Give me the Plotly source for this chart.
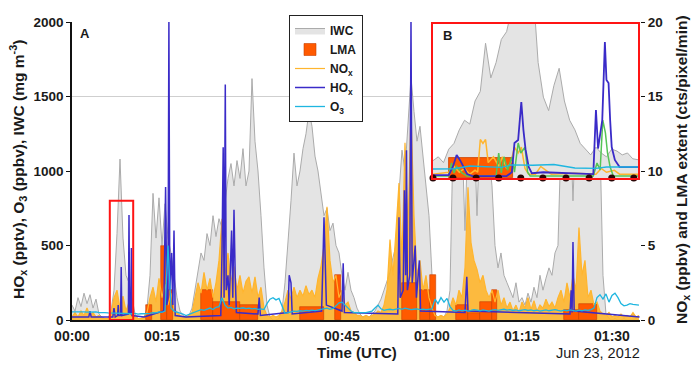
import plotly.graph_objects as go

# ---------------- canvas / layout geometry ----------------
W, H = 694, 371
ML, MR, MT, MB = 72, 54, 22, 51
PW, PH = W - ML - MR, H - MT - MB


def px_x(x):
    return (x - ML) / PW


def px_y(y):
    return (H - MB - y) / PH


# ---------------- panel A data (time in minutes after 00:00 UTC, 0.5-min samples) ----------------
STEP = 0.5
iwc = [
    100, 60, 150, 90, 180, 110, 170, 80, 140, 40,
    20, 10, 10, 60, 200, 580, 1080, 550, 300, 250,
    150, 40, 10, 10, 20, 80, 300, 850, 550, 820,
    500, 780, 550, 450, 300, 150, 60, 30, 20, 30,
    80, 200, 320, 450, 400, 580, 500, 700, 560, 680,
    620, 800, 950, 1050, 900, 1070, 950, 1150, 900, 1000,
    1620, 1200, 1000, 700, 350, 100, 20, 0, 0, 10,
    60, 250, 500, 800, 1120, 900, 1000, 1150, 1250, 1400,
    1300, 1100, 1000, 850, 700, 750, 600, 650, 500, 450,
    300, 200, 320, 200, 150, 80, 40, 20, 30, 20,
    40, 60, 100, 140, 200, 260, 320, 420, 500, 850,
    1140, 1000, 1300, 1630, 1400, 1200, 1300, 1100, 900, 700,
    300, 40, 20, 30, 20, 60, 200, 1200, 1300, 1400,
    1250, 600, 1300, 1400, 1350, 700, 1300, 1450, 1300, 1100,
    900, 500, 350, 450, 300, 250, 200, 150, 250, 120,
    150, 100, 180, 120, 220, 150, 300, 200, 280, 350,
    300, 450, 500, 1200, 1400, 1250, 1400, 800, 1350, 1450,
    1300, 1400, 1350, 1200, 1300, 1400, 1200, 300, 40, 10,
    0, 10, 0, 0, 10, 0, 0, 0, 10, 0,
]
nox = [
    0.2, 0.5, 0.2, 0.6, 0.3, 0.8, 0.3, 0.5, 0.2, 0.3,
    0.1, 0.1, 0.1, 0.4, 1.5, 2.0, 0.8, 1.6, 0.6, 1.2,
    0.4, 0.2, 0.1, 0.1, 0.2, 0.5, 1.5, 2.2, 1.2, 2.8,
    1.5, 2.4, 1.0, 1.8, 0.8, 0.5, 0.3, 0.2, 0.2, 0.3,
    0.5, 1.5, 2.5, 1.8, 3.2, 2.0, 2.8, 1.5, 2.5, 4.0,
    6.8, 3.0, 4.5, 2.5, 3.6, 2.0, 3.0, 1.8, 2.6, 2.9,
    1.8, 2.9, 1.5, 2.2, 0.8, 0.3, 0.2, 0.3, 0.2, 0.3,
    0.6, 1.2, 2.0, 1.4, 2.2, 1.5, 2.0, 1.6, 2.3, 1.7,
    2.0, 1.5, 2.8, 3.6, 5.0, 7.6, 4.0, 2.5, 3.0, 1.5,
    2.0, 1.0, 1.2, 0.6, 0.5, 0.3, 0.3, 0.2, 0.3, 0.2,
    0.3, 0.4, 0.6, 0.5, 1.0, 2.0, 5.4, 3.0, 6.0, 9.2,
    4.0, 11.9, 6.0, 14.0, 7.0, 3.0, 4.0, 2.0, 3.0, 1.5,
    0.8, 0.3, 0.2, 0.3, 0.2, 0.4, 0.8, 1.5, 1.0, 2.0,
    1.5, 3.5, 8.9, 5.2, 4.0, 3.4, 2.5, 3.0, 2.0, 1.5,
    2.0, 1.2, 2.0, 1.0, 1.5, 0.8, 1.2, 0.6, 1.0, 0.5,
    1.2, 0.8, 1.5, 0.7, 1.3, 0.6, 1.0, 0.8, 1.4, 0.9,
    1.2, 0.8, 1.5, 2.0, 1.2, 2.5, 1.5, 3.0, 2.0, 6.2,
    3.0, 4.0, 1.5, 2.0, 1.0, 1.2, 0.6, 0.4, 0.3, 0.5,
    0.2, 0.3, 0.2, 0.4, 0.2, 0.3, 0.2, 0.5, 0.2, 0.3,
]
o3 = [
    55, 56, 54, 57, 55, 53, 55, 52, 54, 50,
    52, 50, 48, 47, 45, 48, 44, 46, 43, 45,
    42, 44, 40, 42, 40, 43, 45, 50, 48, 55,
    52, 60, 500, 80, 60, 55, 45, 40, 30, 38,
    45, 55, 60, 70, 65, 75, 80, 70, 85, 90,
    150, 100, 80, 85, 75, 80, 78, 82, 76, 80,
    75, 78, 72, 75, 70, 110, 140, 150, 135, 145,
    90, 45, 50, 55, 60, 58, 62, 60, 65, 62,
    66, 63, 68, 70, 75, 80, 72, 78, 95, 115,
    120, 100, 80, 60, 50, 50, 48, 52, 50, 55,
    60, 80, 100, 75, 65, 70, 72, 68, 75, 78,
    72, 80, 75, 70, 72, 74, 70, 73, 70, 72,
    75, 140, 110, 150, 120, 145, 90, 65, 60, 68,
    62, 66, 60, 64, 70, 66, 62, 68, 64, 60,
    66, 70, 65, 68, 72, 66, 70, 64, 68, 62,
    66, 70, 64, 68, 62, 66, 60, 64, 68, 62,
    66, 70, 64, 60, 66, 62, 68, 64, 60, 66,
    62, 68, 64, 70, 80, 150, 170, 140, 175, 120,
    165, 180, 150, 110, 95, 100, 110, 105, 100, 100,
]
t_main = [round(i * STEP, 2) for i in range(len(iwc))]

# HOx: irregular sample times (spiky series)
hox_t = [0, 2.8, 3.0, 3.2, 6.8, 7.0, 7.2, 7.6, 7.7, 7.8, 8.1, 8.2, 8.3, 9.4, 9.5, 9.6, 9.8, 9.9, 10.0,
         12.0, 15.3, 15.6, 15.8, 16.0, 16.15, 16.3, 16.6, 16.8, 17.0, 17.2, 19.0, 24.8, 25.0, 25.2,
         25.35, 25.55, 25.7, 26.0, 26.2, 26.6, 26.8, 27.0, 27.2, 27.4, 31.0, 31.2, 31.4, 36.0, 36.2,
         36.5, 36.7, 41.6, 41.8, 42.0, 42.2, 42.4, 45.0, 45.2, 45.4, 54.3, 54.5, 54.7, 55.2, 55.4,
         55.6, 55.75, 55.9, 56.3, 56.5, 56.7, 57.2, 57.4, 57.9, 58.1, 65.5, 65.8, 66.0, 83.0, 83.2,
         83.35, 83.5, 83.7, 94.6]
hox_v = [20, 20, 60, 20, 20, 80, 20, 30, 100, 30, 30, 356, 30, 40, 705, 50, 40, 483, 30,
         20, 60, 893, 100, 150, 2000, 200, 450, 100, 600, 30, 20, 30, 450, 1160,
         150, 1580, 200, 300, 100, 600, 150, 740, 300, 50, 40, 150, 30, 50, 300,
         250, 40, 60, 350, 690, 400, 100, 60, 380, 50, 40, 690, 150, 200, 870,
         300, 1140, 200, 300, 2000, 250, 500, 150, 400, 60, 50, 290, 60, 40, 200,
         50, 523, 60, 20]

# LMA extent blocks (start, end in minutes; value in cts/pixel/min)
lma_start = [12.3, 14.9, 15.9, 21.5, 23.5, 28.0, 38.0, 43.8, 55.0, 58.0, 59.6, 64.0, 66.0, 68.0, 70.0, 82.0, 84.5]
lma_end = [13.3, 15.9, 16.9, 23.5, 28.0, 31.0, 42.0, 44.8, 57.5, 59.6, 60.6, 66.0, 68.0, 70.0, 70.8, 84.5, 87.5]
lma_val = [1.0, 5.0, 2.0, 2.0, 1.2, 1.0, 0.9, 3.0, 2.5, 2.0, 3.0, 1.0, 0.5, 1.2, 2.0, 0.7, 1.1]

x_ticks = [0, 15, 30, 45, 60, 75, 90]
x_ticktext = ["00:00", "00:15", "00:30", "00:45", "01:00", "01:15", "01:30"]
X_MAX = 94.67
LEFT_MAX, RIGHT_MAX = 2000, 20
y_left_ticks = [0, 500, 1000, 1500, 2000]
y_right_ticks = [0, 5, 10, 15, 20]

# ---------------- panel B (zoom of the red box) ----------------
INSET_T0, INSET_T1, INSET_Y1, INSET_NOX1 = 6.3, 10.2, 800, 8
iwc_b = [90, 110, 80, 150, 180, 250, 300, 280, 400, 450, 700, 520, 600, 720, 760, 900, 1000, 1000, 1000,
         1000, 600, 420, 350, 480, 570, 400, 300, 250, 180, 150, 120, 160, 130, 110, 150, 140, 120,
         130, 100, 95]
t_iwc_b = [round(INSET_T0 + 0.1 * i, 2) for i in range(len(iwc_b))]
hox_b_t = [6.30, 6.60, 6.68, 6.75, 6.82, 6.88, 6.95, 7.05, 7.70, 7.80, 7.85, 7.92, 7.98, 8.02, 8.06, 8.12,
           8.18, 8.40, 8.60, 8.90, 9.20, 9.35, 9.40, 9.44, 9.52, 9.57, 9.60, 9.64, 9.67, 9.70, 9.76,
           9.85, 10.2]
hox_b_v = [15, 15, 60, 120, 90, 57, 20, 10, 10, 30, 182, 197, 395, 250, 150, 57,
           25, 30, 28, 25, 20, 20, 353, 153, 301, 706, 509, 493, 301, 161, 94,
           57, 57]
nox_b_t = [6.30, 6.60, 6.70, 6.80, 6.90, 7.00, 7.10, 7.15, 7.20, 7.25, 7.30, 7.35, 7.45, 7.55, 7.62, 7.70,
           7.78, 7.85, 7.92, 7.98, 8.05, 8.12, 8.25, 8.35, 8.45, 8.55, 9.00, 9.40, 9.50, 9.60, 9.75,
           9.85, 10.2]
nox_b_v = [0.2, 0.3, 0.6, 0.3, 0.5, 0.2, 0.4, 0.3, 2.0, 1.8, 2.0, 0.8, 1.1, 0.6, 1.1, 0.5,
           0.8, 1.6, 1.3, 1.6, 0.5, 0.2, 0.2, 0.6, 0.4, 0.2, 0.25, 0.2, 0.5, 0.3, 0.4,
           0.2, 0.2]
grn_b_t = [6.30, 6.60, 6.65, 6.70, 6.75, 6.85, 6.95, 7.50, 7.55, 7.60, 7.65, 7.72, 7.80, 7.85, 7.92, 7.97,
           8.05, 8.10, 8.15, 9.35, 9.42, 9.48, 9.53, 9.58, 9.62, 9.67, 9.73, 10.2]
grn_b_v = [10, 10, 78, 26, 60, 26, 10, 10, 130, 26, 110, 40, 109, 30, 182, 130,
           160, 30, 10, 10, 78, 42, 301, 234, 130, 57, 10, 10]
o3_b_t = [6.3, 6.7, 7.0, 7.3, 7.6, 7.8, 8.2, 8.6, 8.8, 9.0, 9.4, 9.6, 10.2]
o3_b_v = [47, 48, 62, 60, 55, 68, 66, 70, 60, 52, 50, 57, 57]
lma_b_start, lma_b_end, lma_b_val = [6.6], [7.82], [1.05]
marks_b = [6.30, 6.68, 7.12, 7.55, 7.97, 8.39, 8.83, 9.27, 9.70, 10.12]

# ---------------- styling ----------------
FONT = "Liberation Sans, Arial, sans-serif"
C_IWC_LINE, C_IWC_FILL = "#ABABAB", "#E4E4E4"
C_LMA, C_NOX, C_HOX, C_O3, C_GRN, C_RED = "#FF5A00", "#FFB52E", "#3A2BC8", "#1EB6E0", "#55C455", "#FF1414"
C_NOX_FILL = "rgba(255,180,40,0.88)"

fig = go.Figure()

# ---- panel A traces
# layer order (overlay subplots): y  -> IWC ; y2 -> NOx envelope ; y3 -> LMA + NOx line ; y4 -> HOx, O3
fig.add_trace(go.Scatter(x=t_main, y=iwc, name="IWC", mode="lines", legendrank=1,
                         line=dict(color=C_IWC_LINE, width=1),
                         fill="tozeroy", fillcolor=C_IWC_FILL, xaxis="x", yaxis="y"))
fig.add_trace(go.Scatter(x=t_main, y=nox, mode="lines", showlegend=False, hoverinfo="skip",
                         line=dict(color=C_NOX, width=0), fill="tozeroy", fillcolor=C_NOX_FILL,
                         xaxis="x", yaxis="y2"))
fig.add_trace(go.Bar(x=[(s + e) / 2 for s, e in zip(lma_start, lma_end)], y=lma_val,
                     width=[e - s for s, e in zip(lma_start, lma_end)], name="LMA", legendrank=2,
                     marker=dict(color=C_LMA, line=dict(color="#C84000", width=0.6)),
                     xaxis="x", yaxis="y3"))
fig.add_trace(go.Scatter(x=t_main, y=nox, name="NO<sub>x</sub>", mode="lines", legendrank=3,
                         line=dict(color=C_NOX, width=1.2), xaxis="x", yaxis="y3"))
fig.add_trace(go.Scatter(x=hox_t, y=hox_v, name="HO<sub>x</sub>", mode="lines", legendrank=4,
                         line=dict(color=C_HOX, width=1.5), xaxis="x", yaxis="y4"))
fig.add_trace(go.Scatter(x=t_main, y=o3, name="O<sub>3</sub>", mode="lines", legendrank=5,
                         line=dict(color=C_O3, width=1.3), xaxis="x", yaxis="y4"))

# ---- panel B traces
fig.add_trace(go.Scatter(x=[INSET_T0, INSET_T1, INSET_T1, INSET_T0, INSET_T0],
                         y=[0, 0, INSET_Y1, INSET_Y1, 0], mode="lines", fill="toself",
                         fillcolor="white", line=dict(width=0), showlegend=False,
                         hoverinfo="skip", xaxis="x2", yaxis="y5"))
fig.add_trace(go.Scatter(x=t_iwc_b, y=iwc_b, mode="lines", showlegend=False,
                         line=dict(color=C_IWC_LINE, width=1),
                         fill="tozeroy", fillcolor=C_IWC_FILL, xaxis="x2", yaxis="y5"))
fig.add_trace(go.Bar(x=[(s + e) / 2 for s, e in zip(lma_b_start, lma_b_end)], y=lma_b_val,
                     width=[e - s for s, e in zip(lma_b_start, lma_b_end)], showlegend=False,
                     marker=dict(color=C_LMA, line=dict(color="#C84000", width=0.8)),
                     xaxis="x2", yaxis="y6"))
fig.add_trace(go.Scatter(x=nox_b_t, y=nox_b_v, mode="lines", showlegend=False,
                         line=dict(color=C_NOX, width=1.5), xaxis="x2", yaxis="y6"))
fig.add_trace(go.Scatter(x=grn_b_t, y=grn_b_v, mode="lines", showlegend=False,
                         line=dict(color=C_GRN, width=1.5), xaxis="x2", yaxis="y7"))
fig.add_trace(go.Scatter(x=hox_b_t, y=hox_b_v, mode="lines", showlegend=False,
                         line=dict(color=C_HOX, width=1.8), xaxis="x2", yaxis="y7"))
fig.add_trace(go.Scatter(x=o3_b_t, y=o3_b_v, mode="lines", showlegend=False,
                         line=dict(color=C_O3, width=1.4), xaxis="x2", yaxis="y7"))
fig.add_trace(go.Scatter(x=marks_b, y=[0] * len(marks_b), mode="markers", showlegend=False,
                         marker=dict(color="#2a0505", size=7, symbol="circle"),
                         cliponaxis=False, xaxis="x2", yaxis="y7"))

tick_font = dict(family=FONT, size=13.5, color="#1a1a1a", weight="bold")
inset_x = [px_x(433), px_x(638)]
inset_y = [px_y(178), px_y(24)]
hidden = dict(visible=False, showgrid=False, zeroline=False)

fig.update_layout(
    width=W, height=H,
    margin=dict(l=ML, r=MR, t=MT, b=MB, pad=0),
    paper_bgcolor="white", plot_bgcolor="white",
    font=dict(family=FONT, color="#1a1a1a"),
    bargap=0,
    xaxis=dict(domain=[0, 1], range=[0, X_MAX], tickvals=x_ticks, ticktext=x_ticktext,
               showline=True, linecolor="#111", linewidth=2, ticks="outside", ticklen=2,
               tickcolor="rgba(0,0,0,0)", showgrid=False, zeroline=False,
               tickfont=dict(family=FONT, size=14, color="#1a1a1a", weight="bold"), anchor="y"),
    yaxis=dict(domain=[0, 1], range=[0, LEFT_MAX], tickvals=y_left_ticks, showline=True,
               linecolor="#111", linewidth=1.5, ticks="outside", ticklen=4, tickcolor="#111",
               showgrid=False, zeroline=False, tickfont=tick_font, anchor="x"),
    yaxis2=dict(overlaying="y", side="right", range=[0, RIGHT_MAX], tickvals=y_right_ticks,
                showline=False, ticks="outside", ticklen=4, tickcolor="#111", showgrid=False,
                zeroline=False, tickfont=tick_font, anchor="x"),
    yaxis3=dict(overlaying="y", range=[0, RIGHT_MAX], anchor="x", **hidden),
    yaxis4=dict(overlaying="y", range=[0, LEFT_MAX], anchor="x", **hidden),
    xaxis2=dict(domain=inset_x, range=[INSET_T0, INSET_T1], anchor="y5", showline=True,
                mirror=True, linecolor=C_RED, linewidth=1.6, ticks="", showticklabels=False,
                showgrid=False, zeroline=False),
    yaxis5=dict(domain=inset_y, range=[0, INSET_Y1], anchor="x2", showline=True, mirror=True,
                linecolor=C_RED, linewidth=1.6, ticks="", showticklabels=False, showgrid=False,
                zeroline=False),
    yaxis6=dict(overlaying="y5", range=[0, INSET_NOX1], anchor="x2", **hidden),
    yaxis7=dict(overlaying="y5", range=[0, INSET_Y1], anchor="x2", **hidden),
    legend=dict(x=px_x(289), y=px_y(15), xanchor="left", yanchor="top", bgcolor="white",
                bordercolor="#222", borderwidth=1,
                font=dict(family=FONT, size=12, weight="bold", color="#1a1a1a"),
                itemwidth=30, tracegroupgap=0, traceorder="normal"),
    shapes=[
        dict(type="line", xref="paper", yref="y", x0=0, x1=1, y0=1500, y1=1500,
             line=dict(color="#CFCFCF", width=1), layer="below"),
        dict(type="rect", xref="x", yref="y", x0=INSET_T0, x1=INSET_T1, y0=0, y1=INSET_Y1,
             line=dict(color=C_RED, width=2), layer="above"),
    ],
    annotations=[
        dict(text="HO<sub>x</sub> (pptv), O<sub>3</sub> (ppbv), IWC (mg m<sup>-3</sup>)",
             xref="paper", yref="paper", x=px_x(18), y=px_y(170), textangle=-90,
             showarrow=False, xanchor="center", yanchor="middle",
             font=dict(family=FONT, size=15.5, weight="bold", color="#1a1a1a")),
        dict(text="NO<sub>x</sub> (ppbv) and LMA extent (cts/pixel/min)",
             xref="paper", yref="paper", x=px_x(683), y=px_y(170), textangle=-90,
             showarrow=False, xanchor="center", yanchor="middle",
             font=dict(family=FONT, size=15.5, weight="bold", color="#1a1a1a")),
        dict(text="Time (UTC)", xref="paper", yref="paper", x=px_x(357), y=px_y(353),
             showarrow=False, xanchor="center", yanchor="middle",
             font=dict(family=FONT, size=15, weight="bold", color="#1a1a1a")),
        dict(text="Jun 23, 2012", xref="paper", yref="paper", x=px_x(642), y=px_y(353),
             showarrow=False, xanchor="right", yanchor="middle",
             font=dict(family=FONT, size=14.5, color="#1a1a1a")),
        dict(text="A", xref="paper", yref="paper", x=px_x(85), y=px_y(33),
             showarrow=False, xanchor="center", yanchor="middle",
             font=dict(family=FONT, size=13, weight="bold", color="#1a1a1a")),
        dict(text="B", xref="paper", yref="paper", x=px_x(447), y=px_y(35),
             showarrow=False, xanchor="center", yanchor="middle",
             font=dict(family=FONT, size=13, weight="bold", color="#1a1a1a")),
    ],
)

fig.write_html("out.html")
